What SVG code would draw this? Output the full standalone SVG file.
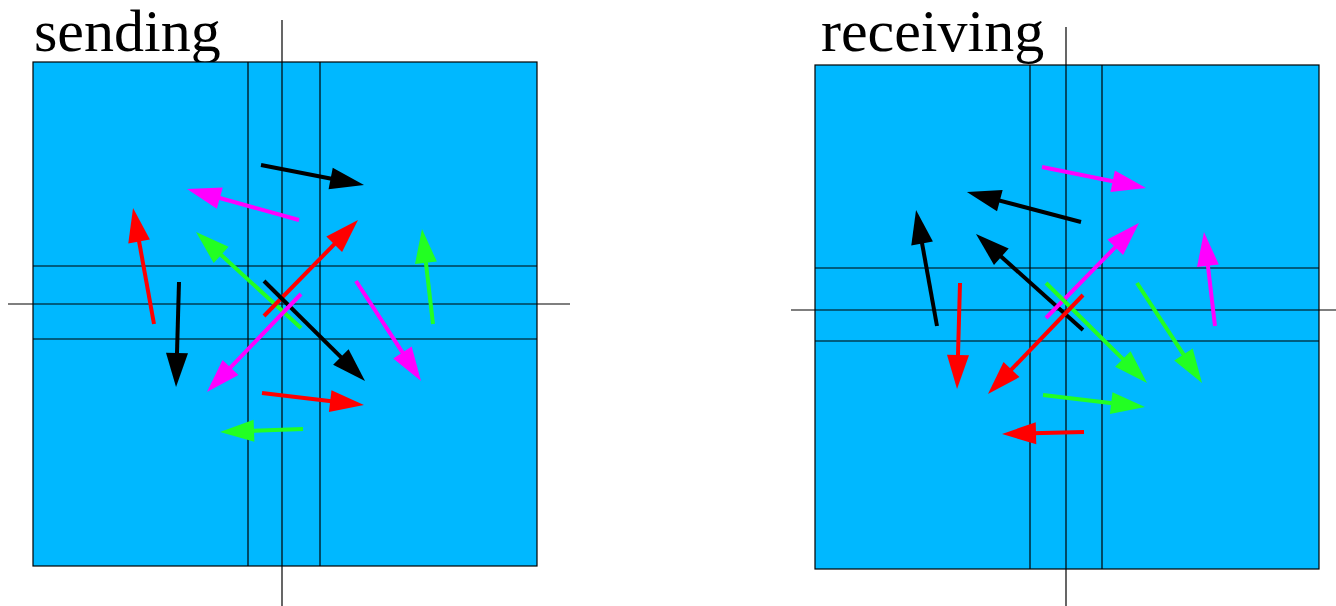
<svg xmlns="http://www.w3.org/2000/svg" width="1336" height="606" viewBox="0 0 1336 606">
<style>
.bg{fill:#00b8ff;stroke:#000;stroke-width:1.2}
.gl{stroke:#000;stroke-width:1.2;fill:none}
.t{font-family:"Liberation Serif",serif;font-size:60px;fill:#000}
.a{stroke-width:4;fill:none;stroke-linecap:butt}
.k{stroke:#000;marker-end:url(#hk)}
.r{stroke:#ff0000;marker-end:url(#hr)}
.g{stroke:#22ff22;marker-end:url(#hg)}
.m{stroke:#ff00ff;marker-end:url(#hm)}
</style>
<defs>
<marker id="hk" markerUnits="userSpaceOnUse" markerWidth="34" markerHeight="22" refX="14" refY="11" orient="auto" overflow="visible"><path d="M0,0 L34,11 L0,22 z" fill="#000"/></marker>
<marker id="hr" markerUnits="userSpaceOnUse" markerWidth="34" markerHeight="22" refX="14" refY="11" orient="auto" overflow="visible"><path d="M0,0 L34,11 L0,22 z" fill="#ff0000"/></marker>
<marker id="hg" markerUnits="userSpaceOnUse" markerWidth="34" markerHeight="22" refX="14" refY="11" orient="auto" overflow="visible"><path d="M0,0 L34,11 L0,22 z" fill="#22ff22"/></marker>
<marker id="hm" markerUnits="userSpaceOnUse" markerWidth="34" markerHeight="22" refX="14" refY="11" orient="auto" overflow="visible"><path d="M0,0 L34,11 L0,22 z" fill="#ff00ff"/></marker>
</defs>
<rect width="1336" height="606" fill="#fff"/>

<g id="sending">
<text class="t" x="34" y="51">sending</text>
<rect class="bg" x="33" y="62" width="504" height="504"/>
<line class="gl" x1="248" y1="62" x2="248" y2="566"/>
<line class="gl" x1="320" y1="62" x2="320" y2="566"/>
<line class="gl" x1="33" y1="266" x2="537" y2="266"/>
<line class="gl" x1="33" y1="339" x2="537" y2="339"/>
<line class="gl" x1="282" y1="20" x2="282" y2="606"/>
<line class="gl" x1="8" y1="304" x2="570" y2="304"/>
</g>

<g id="receiving">
<text class="t" x="821" y="51">receiving</text>
<rect class="bg" x="815" y="65" width="504" height="504"/>
<line class="gl" x1="1030" y1="65" x2="1030" y2="569"/>
<line class="gl" x1="1102" y1="65" x2="1102" y2="569"/>
<line class="gl" x1="815" y1="268" x2="1319" y2="268"/>
<line class="gl" x1="815" y1="341" x2="1319" y2="341"/>
<line class="gl" x1="1066" y1="27" x2="1066" y2="606"/>
<line class="gl" x1="791" y1="310" x2="1336" y2="310"/>
</g>

<g id="connectors">
<line class="a k" x1="261" y1="165" x2="344.4" y2="181.2"/>
<line class="a m" x1="299" y1="220" x2="206.3" y2="194.3"/>
<line class="a g" x1="301" y1="328" x2="210.8" y2="245.5"/>
<line class="a r" x1="264" y1="316" x2="344" y2="234.3"/>
<line class="a k" x1="264" y1="281" x2="350.8" y2="366.9"/>
<line class="a m" x1="301" y1="294" x2="220.8" y2="377.6"/>
<line class="a m" x1="356" y1="281" x2="410.1" y2="364.2"/>
<line class="a g" x1="433" y1="324" x2="424.3" y2="248.9"/>
<line class="a r" x1="262" y1="393" x2="344.1" y2="402.7"/>
<line class="a g" x1="303" y1="429" x2="240" y2="431.3"/>
<line class="a r" x1="154" y1="324" x2="136.6" y2="227.7"/>
<line class="a k" x1="179" y1="282" x2="176.6" y2="367"/>

<line class="a m" x1="1042" y1="167" x2="1126.4" y2="184"/>
<line class="a k" x1="1081" y1="222" x2="986.3" y2="197.1"/>
<line class="a k" x1="1083" y1="330" x2="990.9" y2="247.4"/>
<line class="a m" x1="1046" y1="318" x2="1125" y2="237.3"/>
<line class="a g" x1="1046" y1="283" x2="1132.8" y2="368.9"/>
<line class="a r" x1="1083" y1="295" x2="1001.8" y2="379.6"/>
<line class="a g" x1="1137" y1="283" x2="1191.1" y2="366.2"/>
<line class="a g" x1="1043" y1="395" x2="1125.1" y2="404.7"/>
<line class="a r" x1="1084" y1="432" x2="1022" y2="433.5"/>
<line class="a r" x1="960" y1="283" x2="957.6" y2="369"/>
<line class="a m" x1="1215" y1="326" x2="1206.3" y2="251.9"/>
<line class="a k" x1="937" y1="326" x2="919.6" y2="229.7"/>
</g>
</svg>
